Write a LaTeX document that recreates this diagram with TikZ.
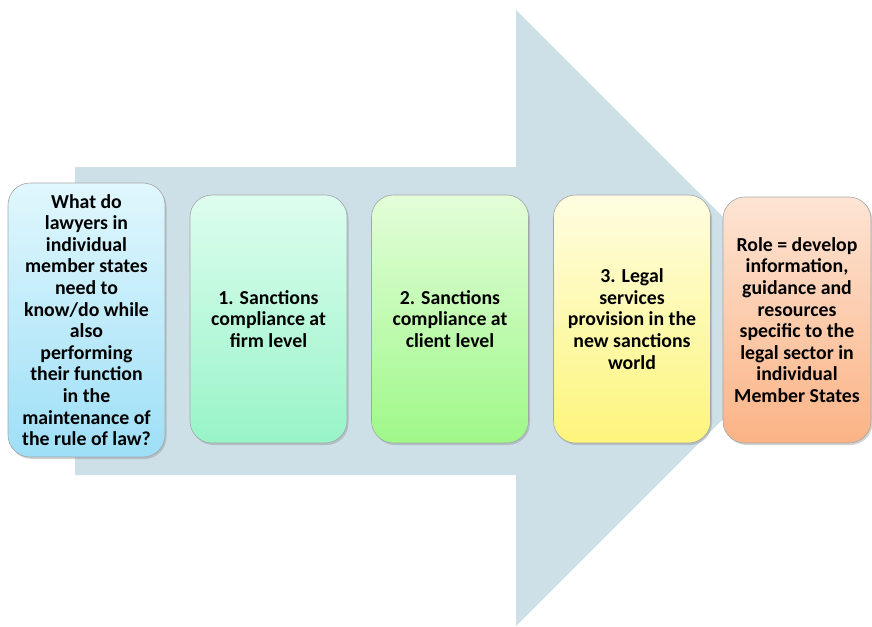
\documentclass[tikz,border=0pt]{standalone}
\usepackage{fontspec}
\setmainfont{Carlito}
\usepackage{tikz}
\usetikzlibrary{shadows}

\definecolor{arrowblue}{HTML}{CDE0E8}
\definecolor{cyantop}{HTML}{E0F7FD}
\definecolor{cyanbot}{HTML}{9EDFF7}
\definecolor{minttop}{HTML}{DDFDEF}
\definecolor{mintbot}{HTML}{98F4C8}
\definecolor{greentop}{HTML}{E3FDD9}
\definecolor{greenbot}{HTML}{9FF889}
\definecolor{yellowtop}{HTML}{FEFDE1}
\definecolor{yellowbot}{HTML}{FDF57C}
\definecolor{orangetop}{HTML}{FDE4D4}
\definecolor{orangebot}{HTML}{FBB385}

\begin{document}
\begin{tikzpicture}[x=1pt, y=-1pt,
  font=\fontsize{19.8}{21.6}\selectfont\bfseries,
  card/.style={draw=gray!70, line width=0.6pt, rounded corners=22pt,
               minimum width=157pt, minimum height=248pt, align=center,
               inner sep=2pt, shading angle=0,
               drop shadow={opacity=0.35, shadow xshift=1.5pt, shadow yshift=-2pt}}]
  \useasboundingbox (0,0) rectangle (872,626);

  % big background arrow
  \fill[arrowblue] (75,167) -- (516,167) -- (516,10) -- (824,318)
    -- (516,626) -- (516,475) -- (75,475) -- cycle;

  \node[card, minimum height=274pt, top color=cyantop, bottom color=cyanbot]
    (Q) at (86.5,320) {What do\\lawyers in\\individual\\member states\\need to\\know/do while\\also\\performing\\their function\\in the\\maintenance of\\the rule of law?};
  \node[card, top color=minttop, bottom color=mintbot]
    (S1) at (268.5,319) {1. Sanctions\\compliance at\\firm level};
  \node[card, top color=greentop, bottom color=greenbot]
    (S2) at (450,319) {2. Sanctions\\compliance at\\client level};
  \node[card, top color=yellowtop, bottom color=yellowbot]
    (S3) at (632,319) {3. Legal\\services\\provision in the\\new sanctions\\world};
  \node[card, minimum width=148pt, minimum height=246pt,
        top color=orangetop, bottom color=orangebot]
    (R) at (797,320) {Role = develop\\information,\\guidance and\\resources\\specific to the\\legal sector in\\individual\\Member States};
\end{tikzpicture}
\end{document}
